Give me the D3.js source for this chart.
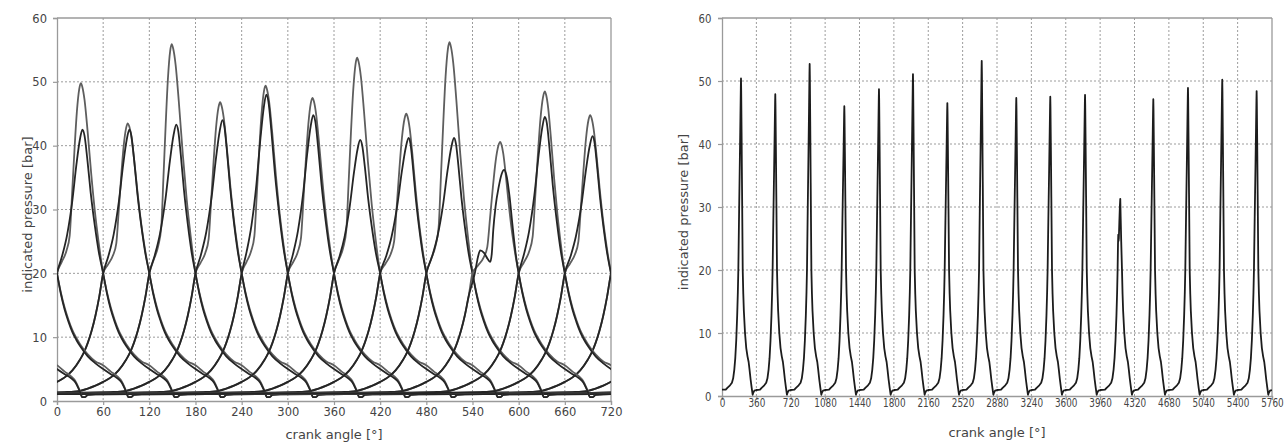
<!DOCTYPE html>
<html><head><meta charset="utf-8">
<script src="https://cdn.jsdelivr.net/npm/d3@7"></script>
<style>body{margin:0;background:#fff}text{font-family:"DejaVu Sans",Verdana,sans-serif}</style>
</head><body><svg id="c" width="1286" height="443"></svg>
<script>
// ---------------- data ----------------
// left panel: 12 cylinders, two recorded cycles each
const leftXTicks = [0,60,120,180,240,300,360,420,480,540,600,660,720];
const leftYTicks = [0,10,20,30,40,50,60];
const cylNominal = [30,90,150,210,270,330,390,450,510,570,630,690];
const highPeakAngle = [31,92,149,212,271,332,390,454,510,576,634,693];
const highPeak = [49.8,43.5,55.9,46.8,49.4,47.5,53.8,45.0,56.2,40.6,48.5,44.8];
const lowPeakAngle = [33,94,155,215,272,333,394,457,516,581,634,696];
const lowPeak = [42.5,42.5,43.3,44.0,48.0,44.8,40.9,41.2,41.2,36.2,44.5,41.5];
const lowShape = ["round","round","round","round","round","round","round","round","round","late","round","round"];
// pressure below 20 bar, offset from nominal TDC [deg, bar]
const leftRise = [[-360,1.15],[-200,1.25],[-140,1.4],[-128,1.45],[-120,1.6],[-110,1.95],[-100,2.4],[-90,3.0],[-80,3.7],[-70,4.8],[-60,6.5],[-55,7.6],[-50,9.1],[-45,11.0],[-40,13.4],[-35,16.4]];
const leftFallHigh = [[35,17.0],[40,14.6],[45,12.7],[50,11.1],[55,9.9],[60,8.9],[70,7.3],[80,6.2],[90,5.6],[100,4.6],[108,3.9],[114,3.1],[119,1.8],[123,0.6],[126,0.6],[130,0.95],[140,1.05],[200,1.1],[360,1.15]];
const leftFallLow = [[35,16.8],[40,14.3],[45,12.4],[50,10.8],[55,9.6],[60,8.6],[70,7.0],[80,5.9],[90,5.0],[100,4.2],[108,3.6],[114,2.9],[119,1.7],[123,0.6],[126,0.6],[130,0.95],[140,1.05],[200,1.1],[360,1.15]];
// shape above 20 bar, fraction of (peak - 20)
const sharpTop = [[-30,0],[-24,0.06],[-18,0.12],[-14,0.2],[-11,0.42],[-8,0.65],[-5,0.85],[-2,0.97],[0,1],[2,0.98],[5,0.91],[9,0.75],[14,0.52],[19,0.32],[24,0.16],[30,0]];
const roundTop = [[-30,0],[-24,0.12],[-18,0.27],[-12,0.5],[-7,0.76],[-3,0.93],[0,1],[3,0.96],[7,0.8],[12,0.56],[18,0.33],[24,0.14],[30,0]];
// the cycle with a plateau before ignition (absolute bar, offset from nominal)
const lateTop = [[-30,18.6],[-27,20],[-23,22.5],[-20,23.6],[-15,23.2],[-10,22.2],[-7,21.8],[-5,23],[-3,26.8],[0,30.5],[4,33.5],[8,35.6],[11,36.2],[14,35.4],[18,32.2],[22,27.5],[26,23.2],[30,20]];

// right panel: one cylinder, 16 cycles
const rightXTicks = [0,360,720,1080,1440,1800,2160,2520,2880,3240,3600,3960,4320,4680,5040,5400,5760];
const rightYTicks = [0,10,20,30,40,50,60];
const rightPeakAngle = [199,558,918,1281,1644,2000,2360,2720,3082,3438,3802,4171,4517,4880,5239,5599];
const rightPeak = [50.4,47.9,52.7,46.0,48.7,51.1,46.5,53.2,47.3,47.5,47.8,31.3,47.1,48.9,50.2,48.4];
const rightShape = ["n","n","n","n","n","n","n","n","n","n","n","misfire","n","n","n","n"];
const rightLow1 = [[-160,1.0],[-143,1.3],[-115,1.7],[-95,2.1],[-82,2.8],[-70,4.2],[-60,6.0],[-50,8.8],[-40,12.8],[-33,16.5]];
const rightLow2 = [[24,16.2],[30,13.5],[42,10],[55,7.6],[68,6.3],[80,5.4],[90,4.1],[100,2.7],[112,1.3],[122,0.2],[128,0.5],[140,0.85],[160,0.95]];
const rightTop = [[-28,0],[-20,0.3],[-12,0.58],[-6,0.8],[-2,0.95],[0,1],[2,0.94],[6,0.72],[11,0.42],[18,0]];
const misfireTop = [[-28,20],[-24,24],[-21,25.6],[-18,24.6],[-15,25],[-10,27.5],[-4,30.2],[0,31.3],[4,28.5],[10,24.5],[18,20]];
const rightEnds = [[0,1.0],[5760,1.0]];

// ---------------- drawing ----------------
const svg = d3.select("#c");
const GRID = "#9c9c9c", FRAME = "#9a9a9a", TXT = "#444";

function panel(id, box, xDom, yDom, xTicks, yTicks, opt) {
  const x = d3.scaleLinear().domain(xDom).range([box.l, box.r]);
  const y = d3.scaleLinear().domain(yDom).range([box.b, box.t]);
  const g = svg.append("g");
  g.selectAll(null).data(yTicks.slice(1, -1)).join("line")
    .attr("x1", box.l).attr("x2", box.r).attr("y1", d => y(d)).attr("y2", d => y(d))
    .attr("stroke", GRID).attr("stroke-width", 1).attr("stroke-dasharray", "2,2");
  g.selectAll(null).data(xTicks.slice(1, -1)).join("line")
    .attr("y1", box.t).attr("y2", box.b).attr("x1", d => x(d)).attr("x2", d => x(d))
    .attr("stroke", GRID).attr("stroke-width", 1).attr("stroke-dasharray", "2,2");
  const ax = d3.axisBottom(x).tickValues(xTicks).tickSize(4).tickFormat(d3.format("d"));
  const ay = d3.axisLeft(y).tickValues(yTicks).tickSize(4).tickFormat(d3.format("d"));
  const gx = g.append("g").attr("transform", `translate(0,${box.b})`).call(ax);
  const gy = g.append("g").attr("transform", `translate(${box.l},0)`).call(ay);
  [gx, gy].forEach(a => {
    a.select(".domain").attr("stroke", FRAME).attr("stroke-width", 1.3);
    a.selectAll(".tick line").attr("stroke", FRAME).attr("stroke-width", 1.2);
    a.selectAll("text").attr("fill", TXT).style("font-size", opt.tickSize + "px");
  });
  gx.selectAll("text").attr("y", opt.xLabY).attr("dy", 0);
  gy.selectAll("text").attr("x", -opt.yLabGap).attr("dy", "0.36em");
  if (opt.xScale !== 1) gx.selectAll(".tick text").attr("transform", `scale(${opt.xScale},1)`);
  if (opt.yScale !== 1) gy.selectAll(".tick text").attr("transform", `scale(${opt.yScale},1)`);
  g.append("line").attr("x1", box.l).attr("x2", box.r).attr("y1", box.t).attr("y2", box.t).attr("stroke", FRAME).attr("stroke-width", 1.3);
  g.append("line").attr("x1", box.r).attr("x2", box.r).attr("y1", box.t).attr("y2", box.b).attr("stroke", FRAME).attr("stroke-width", 1.3);
  g.append("text").attr("x", (box.l + box.r) / 2).attr("y", opt.titleY).attr("text-anchor", "middle")
    .attr("fill", TXT).style("font-size", "13px").text("crank angle [°]");
  g.append("text").attr("transform", `translate(${opt.yTitleX},${(box.t + box.b) / 2 + 5}) rotate(-90)`)
    .attr("text-anchor", "middle").attr("fill", TXT).style("font-size", "13px").text("indicated pressure [bar]");
  svg.append("clipPath").attr("id", id).append("rect")
    .attr("x", box.l).attr("y", box.t - 2).attr("width", box.r - box.l).attr("height", box.b - box.t + 4);
  const plot = svg.append("g").attr("clip-path", `url(#${id})`);
  return {x, y, plot};
}

// left panel
const L = panel("clipL", {l: 57, r: 611, t: 18, b: 401}, [0, 720], [0, 60], leftXTicks, leftYTicks,
  {tickSize: 11.5, xLabY: 15, yLabGap: 10, xScale: 1, yScale: 1, titleY: 439, yTitleX: 31.5});

function leftCurve(nominal, peakAngle, peak, shape, fall) {
  const pts = [];
  leftRise.forEach(([d, v]) => pts.push([d, v]));
  if (shape === "late") {
    lateTop.forEach(([d, v]) => pts.push([d, v]));
  } else {
    const s = peakAngle - nominal;
    const prof = shape === "sharp" ? sharpTop : roundTop;
    prof.forEach(([d, f]) => {
      const dx = d <= 0 ? -30 + (d + 30) * (s + 30) / 30 : s + d * (30 - s) / 30;
      pts.push([dx, 20 + f * (peak - 20)]);
    });
  }
  fall.forEach(([d, v]) => pts.push([d, v]));
  const out = [];
  [-720, 0, 720].forEach(sh => pts.forEach(([d, v]) => out.push([nominal + d + sh, v])));
  return out;
}

const lineL = d3.line().x(d => L.x(d[0])).y(d => L.y(d[1])).curve(d3.curveMonotoneX);
const leftSeries = [];
cylNominal.forEach((n, i) => {
  leftSeries.push({pts: leftCurve(n, highPeakAngle[i], highPeak[i], "sharp", leftFallHigh), c: "#5e5e5e"});
  leftSeries.push({pts: leftCurve(n, lowPeakAngle[i], lowPeak[i], lowShape[i], leftFallLow), c: "#252525"});
});
L.plot.selectAll(null).data(leftSeries).join("path")
  .attr("d", s => lineL(s.pts)).attr("fill", "none").attr("stroke", s => s.c)
  .attr("stroke-width", 1.8).attr("stroke-linejoin", "round");

// right panel
const R = panel("clipR", {l: 722, r: 1272, t: 18, b: 396}, [0, 5760], [0, 60], rightXTicks, rightYTicks,
  {tickSize: 11.5, xLabY: 11, yLabGap: 12, xScale: 0.77, yScale: 0.88, titleY: 437, yTitleX: 688});

const rpts = [rightEnds[0]];
rightPeakAngle.forEach((pa, i) => {
  const P = rightPeak[i];
  rightLow1.forEach(([d, v]) => rpts.push([pa + d, v]));
  if (rightShape[i] === "misfire") misfireTop.forEach(([d, v]) => rpts.push([pa + d, v]));
  else rightTop.forEach(([d, f]) => rpts.push([pa + d, 20 + f * (P - 20)]));
  rightLow2.forEach(([d, v]) => rpts.push([pa + d, v]));
});
rpts.push(rightEnds[1]);
rpts.sort((a, b) => a[0] - b[0]);
const lineR = d3.line().x(d => R.x(d[0])).y(d => R.y(d[1]));
R.plot.append("path").attr("d", lineR(rpts)).attr("fill", "none").attr("stroke", "#1c1c1c")
  .attr("stroke-width", 1.8).attr("stroke-linejoin", "round");
</script></body></html>
